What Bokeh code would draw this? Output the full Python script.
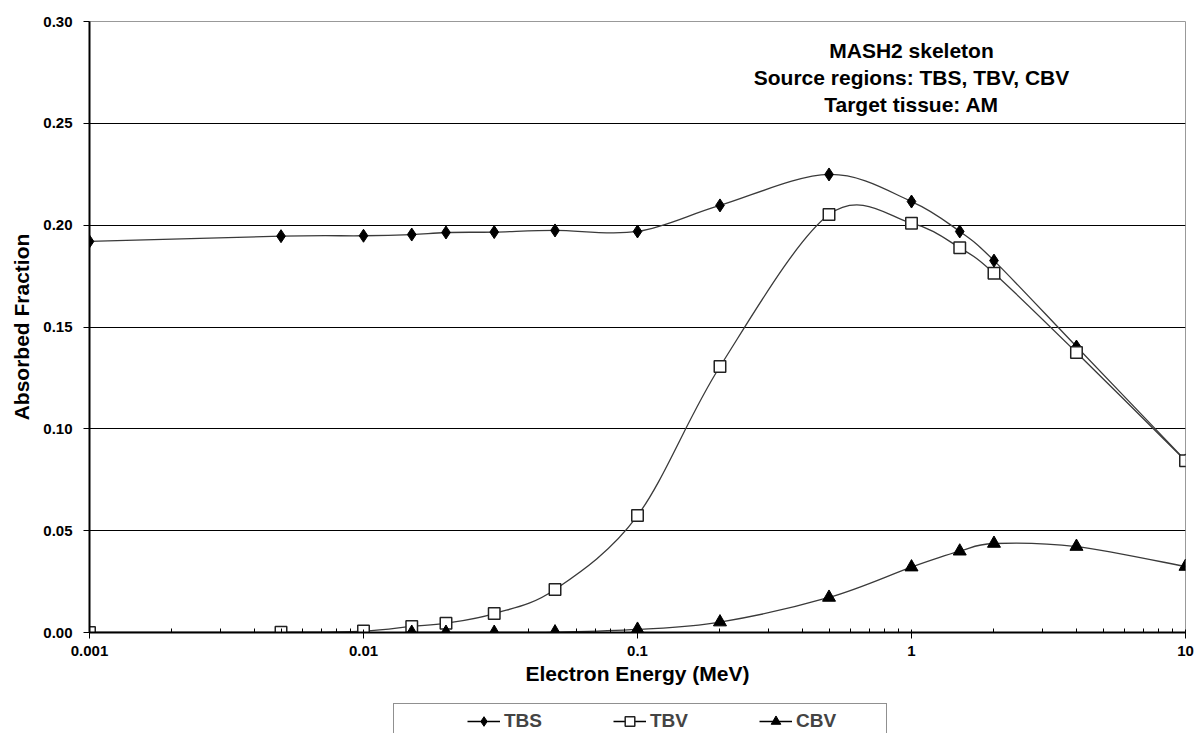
import numpy as np
from bokeh.plotting import figure
from bokeh.layouts import column
from bokeh.models import FixedTicker, PrintfTickFormatter, Legend, LegendItem, Label, Range1d
from bokeh.embed import file_html
from bokeh.resources import INLINE

# ---- data ----
energy = [0.001, 0.005, 0.01, 0.015, 0.02, 0.03, 0.05, 0.1, 0.2, 0.5, 1, 1.5, 2, 4, 10]
tbs = [0.192, 0.1946, 0.1948, 0.1954, 0.1964, 0.1966, 0.1974, 0.1969, 0.2097, 0.2249, 0.2116, 0.1969, 0.1826, 0.1404, 0.0845]
tbv = [0.0, 0.0001, 0.0007, 0.0030, 0.0046, 0.0093, 0.0211, 0.0574, 0.1306, 0.2052, 0.2010, 0.1889, 0.1764, 0.1375, 0.0843]
cbv_energy = [0.015, 0.02, 0.03, 0.05, 0.1, 0.2, 0.5, 1, 1.5, 2, 4, 10]
cbv = [0.0, 0.0, 0.0, 0.0002, 0.0015, 0.0051, 0.0172, 0.0321, 0.0399, 0.0437, 0.0422, 0.0324]

series_names = ["TBS", "TBV", "CBV"]
x_ticks = [0.001, 0.01, 0.1, 1, 10]
x_tick_labels = ["0.001", "0.01", "0.1", "1", "10"]
y_ticks = [0.0, 0.05, 0.10, 0.15, 0.20, 0.25, 0.30]
title_lines = ["MASH2 skeleton", "Source regions: TBS, TBV, CBV", "Target tissue: AM"]

FONT = "Liberation Sans"
LINE_COLOR = "#3a3a3a"
W = 1196
FRAME_LEFT = 89

p = figure(width=W, height=700, x_axis_type="log",
           x_range=(0.001, 10), y_range=(0, 0.30),
           output_backend="svg", toolbar_location=None,
           min_border_left=FRAME_LEFT, min_border_right=W - 1185, min_border_top=21, min_border_bottom=68)
p.background_fill_color = "white"
p.border_fill_color = "white"
p.outline_line_color = "#999999"
p.outline_line_width = 1

# axes
minor = [m * d for d in [0.001, 0.01, 0.1, 1] for m in range(2, 10)]
p.xaxis.ticker = FixedTicker(ticks=x_ticks, minor_ticks=minor)
p.xaxis.major_label_overrides = {t: l for t, l in zip(x_ticks, x_tick_labels)}
p.yaxis.ticker = FixedTicker(ticks=y_ticks)
p.yaxis.formatter = PrintfTickFormatter(format="%.2f")

for ax in (p.xaxis[0], p.yaxis[0]):
    ax.axis_line_color = "black"
    ax.axis_line_width = 2
    ax.major_tick_line_color = "black"
    ax.major_tick_line_width = 1
    ax.major_label_text_font = FONT
    ax.major_label_text_font_style = "bold"
    ax.major_label_text_font_size = "15px"
    ax.major_label_text_color = "black"
    ax.axis_label_text_font = FONT
    ax.axis_label_text_font_style = "bold"
    ax.axis_label_text_font_size = "21px"
    ax.axis_label_text_color = "black"

p.xaxis.major_tick_in = 3
p.xaxis.major_tick_out = 6
p.xaxis.minor_tick_in = 4
p.xaxis.minor_tick_out = 0
p.xaxis.minor_tick_line_color = "black"
p.xaxis.major_label_standoff = 7
p.xaxis.axis_label = "Electron Energy (MeV)"
p.xaxis.axis_label_standoff = 3

p.yaxis.major_tick_in = 0
p.yaxis.major_tick_out = 6
p.yaxis.minor_tick_line_color = None
p.yaxis.major_label_standoff = 11
p.yaxis.axis_label = "Absorbed Fraction"
p.yaxis.axis_label_standoff = 7

p.xgrid.grid_line_color = None
p.ygrid.grid_line_color = "black"
p.ygrid.grid_line_width = 1


def smooth_segments(xs, ys):
    """Excel-style smoothed line: cubic Bezier segments with Catmull-Rom control points
    computed in (log10 x, y) space."""
    lx = np.log10(np.asarray(xs, dtype=float))
    y = np.asarray(ys, dtype=float)
    n = len(lx)
    out = dict(x0=[], y0=[], x1=[], y1=[], cx0=[], cy0=[], cx1=[], cy1=[])
    for i in range(n - 1):
        a = i - 1 if i > 0 else i
        b = i + 2 if i + 2 < n else i + 1
        out["x0"].append(10 ** lx[i]); out["y0"].append(y[i])
        out["x1"].append(10 ** lx[i + 1]); out["y1"].append(y[i + 1])
        out["cx0"].append(10 ** (lx[i] + (lx[i + 1] - lx[a]) / 6)); out["cy0"].append(y[i] + (y[i + 1] - y[a]) / 6)
        out["cx1"].append(10 ** (lx[i + 1] - (lx[b] - lx[i]) / 6)); out["cy1"].append(y[i + 1] - (y[b] - y[i]) / 6)
    return out


marker_styles = [
    dict(marker="diamond", size=13, fill_color="black", line_color="black", line_width=1),
    dict(marker="square", size=11.5, fill_color="white", line_color="#222222", line_width=1.5),
    dict(marker="triangle", size=13, fill_color="black", line_color="black", line_width=1),
]
series = [(energy, tbs), (energy, tbv), (cbv_energy, cbv)]

for xs, ys in series:
    p.bezier(**smooth_segments(xs, ys), line_color=LINE_COLOR, line_width=1.3)
for (xs, ys), mk in zip(series, marker_styles):
    p.scatter(xs, ys, **mk)

title_y = [0.2858, 0.2723, 0.2592]
for txt, ty in zip(title_lines, title_y):
    p.add_layout(Label(x=1, y=ty, text=txt, text_align="center", text_baseline="middle",
                       text_font=FONT, text_font_style="bold", text_font_size="21px",
                       text_color="black"))

# ---- legend strip below the chart (its frame is aligned with the chart frame) ----
p2 = figure(width=W, height=33, x_range=Range1d(0, 1), y_range=Range1d(0, 1),
            output_backend="svg", toolbar_location=None,
            x_axis_location=None, y_axis_location=None, min_border=0)
p2.outline_line_color = None
p2.background_fill_color = "white"
p2.border_fill_color = "white"
p2.xgrid.visible = False
p2.ygrid.visible = False

# frame box of the legend (drawn first)
blank = p2.line(x=[], y=[], line_alpha=0)
box = Legend(items=[LegendItem(label="\u00a0", renderers=[blank])], orientation="horizontal",
             location=(393 - FRAME_LEFT, -4), margin=0, padding=4, spacing=0,
             glyph_width=1, glyph_height=24, label_height=24, label_width=483, label_standoff=0,
             label_text_font=FONT, label_text_font_size="19px",
             border_line_color="#222222", border_line_width=1.3,
             background_fill_color="white", background_fill_alpha=1)
p2.add_layout(box)

# hidden copies of the series supply the legend glyphs
items = []
for name, (xs, ys), mk in zip(series_names, series, marker_styles):
    ln = p2.line(xs, ys, line_color="black", line_width=1.3, visible=False)
    sc = p2.scatter(xs, ys, visible=False, **mk)
    items.append(LegendItem(label=name, renderers=[ln, sc]))

legend = Legend(items=items, orientation="horizontal", location=(467 - FRAME_LEFT, 0),
                margin=0, padding=0, spacing=25,
                glyph_width=33, glyph_height=24, label_height=24, label_width=84,
                label_standoff=4,
                label_text_font=FONT, label_text_font_style="bold", label_text_font_size="19px",
                border_line_color=None, background_fill_alpha=0,
                inactive_fill_alpha=0)
p2.add_layout(legend)

layout = column(p, p2, spacing=0)
open("out.html", "w").write(file_html(layout, INLINE))
